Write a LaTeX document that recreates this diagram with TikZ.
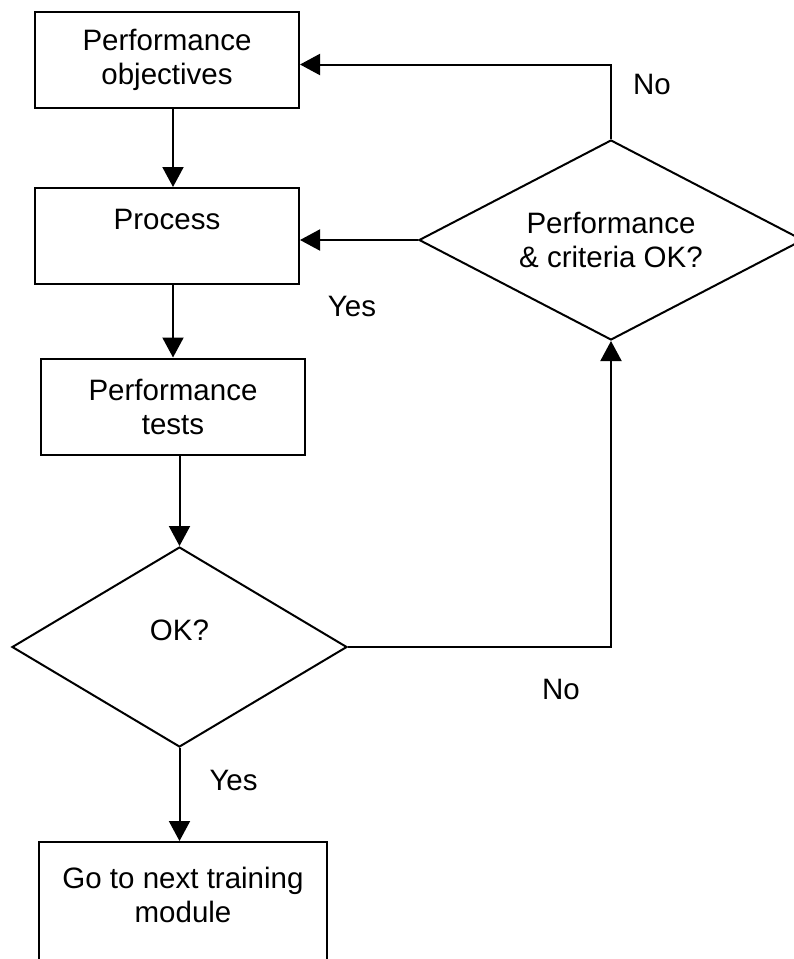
\documentclass[tikz,border=0pt]{standalone}
\usepackage{fontspec}
\setmainfont{Liberation Sans}
\usetikzlibrary{shapes.geometric, arrows.meta, positioning}
\newcommand{\chartfont}{\fontsize{14.75pt}{17pt}\selectfont}
\tikzstyle{block} = [rectangle, 
minimum width=132pt, 
minimum height=48pt,
text centered, 
line width=1pt,
draw=black, 
font=\chartfont]
\tikzstyle{decision} = [diamond, 
aspect=1.675, 
inner sep=0pt, 
minimum width=167.5pt, 
minimum height=100pt, 
text centered, 
line width=1pt,
draw=black, 
font=\chartfont]
\tikzstyle{tag} = [inner sep=0pt, font=\chartfont]
\tikzstyle{arrow} = [line width=1pt,->,>={Triangle[length=10pt,width=10.5pt]}]

\begin{document}
\begin{tikzpicture}[x=0.5pt, y=-0.5pt, node distance=88pt]
\useasboundingbox (0,0) rectangle (793,959);

\node (objectives) [block, align=center] at (167,60) {Performance\\objectives};

\node (process) [block, below of=objectives, align=center] {Process\\~};

\node (tests) [block, below of=process, xshift=3pt, yshift=2.75pt, align=center] {Performance\\tests};

\node (ok) [decision, below of=tests, xshift=3.25pt, yshift=-32.25pt, align=center] {OK?\\~};

\node (next) [block, below of=ok, xshift=1.75pt, yshift=-44.5pt, minimum width=144pt, minimum height=70pt, align=center] {Go to next training\\module\\~};

\node (check) [decision, right of=process, xshift=134pt, yshift=-2pt, aspect=1.92, minimum width=192pt, align=center] {Performance\\\& criteria OK?};

\draw [arrow] ([xshift=3pt]objectives.south) -- ([xshift=3pt]process.north);
\draw [arrow] (tests.north |- process.south) -- (tests.north);
\draw [arrow] (ok.north |- tests.south) -- (ok.north);
\draw [arrow] (ok.south) -- node[tag, pos=0.35, anchor=west, xshift=14.5pt] {Yes} (ok.south |- next.north);
\draw [arrow] (ok.east) -| node[tag, pos=0.405, yshift=-21pt] {No} (check.south);
\draw [arrow] (check.west) -- node[tag, pos=0.56, yshift=-33pt] {Yes} (check.west -| process.east);
\draw [arrow] (check.north) |- node[tag, pos=0.367, xshift=20.5pt] {No} ([yshift=-2.25pt]objectives.east);
\end{tikzpicture}
\end{document}
